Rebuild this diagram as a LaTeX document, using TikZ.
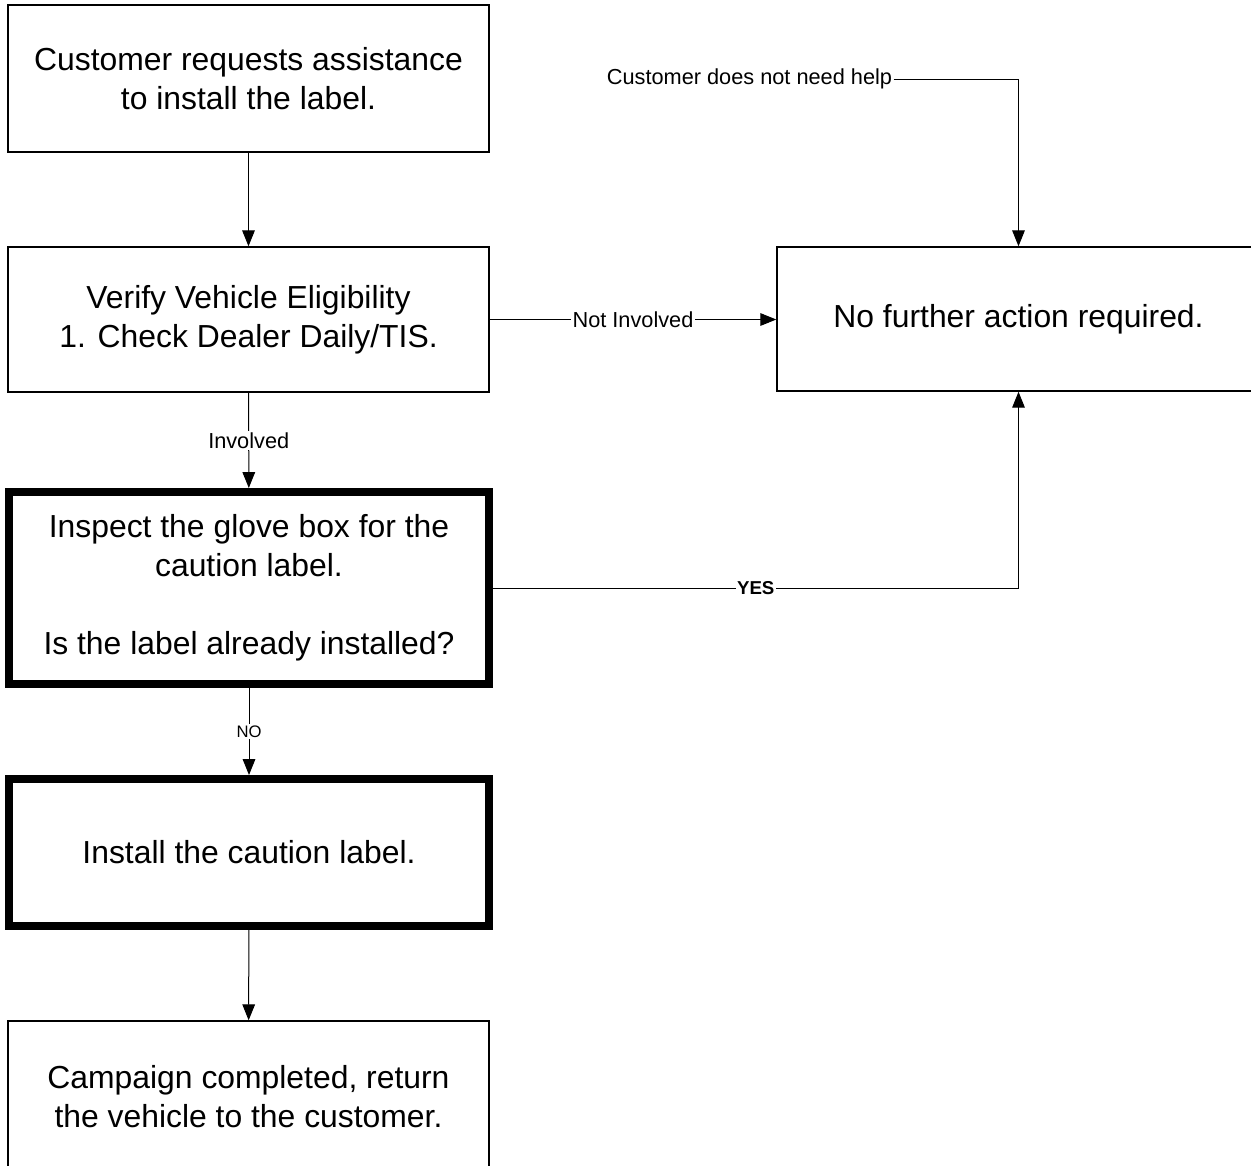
\documentclass[tikz,border=0pt]{standalone}
\usepackage{fontspec}
\setmainfont{Liberation Sans}
\usetikzlibrary{arrows.meta}
\begin{document}
\begin{tikzpicture}[x=0.75pt,y=-0.75pt,
  box/.style={draw,line width=1.1pt,align=center,font=\fontsize{23.9}{29.25}\selectfont,inner sep=0pt},
  thickbox/.style={box,line width=6pt},
  lbl/.style={font=\fontsize{16.3}{18}\selectfont,fill=white,inner sep=1pt},
  conn/.style={line width=0.75pt,-{Triangle[width=9.5pt,length=12pt]}}]
\useasboundingbox (0,0) rectangle (1251,1165);
% boxes
\node[box,minimum width=360.75pt,minimum height=110.25pt] (A) at (248.5,78.5)
  {Customer requests assistance\\to install the label.};
\node[box,minimum width=360.75pt,minimum height=108.75pt] (B) at (248.5,319.5)
  {Verify Vehicle Eligibility\\1. Check Dealer Daily/TIS.};
\node[thickbox,minimum width=360pt,minimum height=144pt] (C) at (249,588)
  {Inspect the glove box for the\\caution label.\\[29.25pt]Is the label already installed?};
\node[thickbox,minimum width=360pt,minimum height=110.25pt] (D) at (249,852.5)
  {Install the caution label.};
\node[box,minimum width=360.75pt,minimum height=114pt] (E) at (248.5,1097)
  {Campaign completed, return\\the vehicle to the customer.};
\node[box,minimum width=362.25pt,minimum height=108pt] (F) at (1018.5,319)
  {No further action required.};
% label at the free end of the top connector
\node[font=\fontsize{16.3}{18}\selectfont,inner sep=1pt] (nh) at (749.5,79) {Customer does not need help};
% connectors
\draw[conn] (A) -- (B);
\draw[conn] (B) -- node[lbl] {Involved} (C);
\draw[conn] (C) -- node[lbl,font=\fontsize{12.5}{14}\selectfont] {NO} (D);
\draw[conn] (D) -- (E);
\draw[conn] (B.east) -- node[lbl] {Not Involved} (B.east -| F.west);
\draw[conn] (C.east) -| node[pos=0.25,lbl,font=\bfseries\fontsize{14}{16}\selectfont] {YES} (F.south);
\draw[conn] (nh.east) -| (F.north);
\end{tikzpicture}
\end{document}
